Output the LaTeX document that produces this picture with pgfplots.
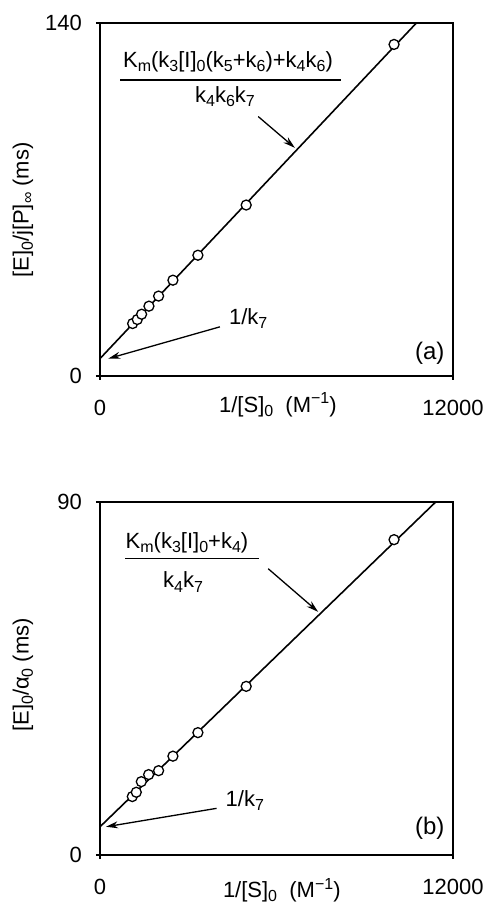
\documentclass[border=0pt]{standalone}
\usepackage{fontspec}
\setmainfont{Liberation Sans}
\usepackage{pgfplots}
\usepackage{pgfplotstable}
\pgfplotsset{compat=1.18}
\usetikzlibrary{arrows.meta}

\newcommand{\sub}[1]{\raisebox{-0.35ex}{\fontsize{8}{8}\selectfont #1}}
\newcommand{\super}[1]{\raisebox{0.75ex}{\fontsize{8}{8}\selectfont #1}}

\pgfplotstableread{
x y
1109 20.8
1268 22.4
1415 24.5
1664 27.7
1992 31.7
2479 38.0
3328 47.9
4970 67.8
9996 131.5
}\dataA
\pgfplotstableread{
x y
0 6.9
10755 140
}\fitA
\pgfplotstableread{
x y
1098 14.9
1234 16.0
1404 18.7
1653 20.5
1992 21.5
2479 25.2
3328 31.2
4970 43.0
9996 80.4
}\dataB
\pgfplotstableread{
x y
0 7.2
11411 90
}\fitB

\pgfplotsset{myax/.style={
  scale only axis, width=176.5pt, height=176.5pt,
  xmin=0, xmax=12000, xtick={0,12000}, xticklabels={0,12000}, scaled x ticks=false,
  scaled y ticks=false,
  tick align=outside, xtick pos=left, ytick pos=left, major tick length=2pt,
  axis line style={line width=0.75pt},
  every tick/.style={line width=0.75pt, black},
  tick label style={font=\fontsize{11}{13}\selectfont},
  xticklabel style={yshift=-6.5pt},
  yticklabel style={xshift=-3.5pt},
  label style={font=\fontsize{11}{13}\selectfont},
  clip=false,
  /pgf/number format/assume math mode=true,
}}
\tikzset{
  fitline/.style={black, line width=0.8pt, no marks},
  pts/.style={only marks, mark=*, mark size=2.5pt, mark options={fill=white, draw=black, line width=0.65pt}},
  arr/.style={line width=0.65pt, -{Stealth[length=6pt,width=3.5pt]}},
  ann/.style={font=\fontsize{11}{13}\selectfont, inner sep=0pt},
}

\begin{document}
\begin{tikzpicture}
\useasboundingbox (-50pt,-263.5pt) rectangle (194pt,188pt);
\begin{axis}[myax, at={(0,0)}, anchor=south west,
  ymin=0, ymax=140, ytick={0,140}, yticklabels={0,140},
  xlabel={1/[S]\sub{0}\ \ (M\super{−1})},
  ylabel={[E]\sub{0}/j[P]\sub{∞} (ms)},
  x label style={at={(axis description cs:0.504,-0.082)}, anchor=center},
  y label style={at={(axis description cs:-0.218,0.47)}, anchor=center, rotate=0},
]
\addplot[fitline] table {\fitA};
\addplot[pts] table {\dataA};
\node[ann] at (axis cs:4350,124.5) {K\sub{m}(k\sub{3}[I]\sub{0}(k\sub{5}+k\sub{6})+k\sub{4}k\sub{6})};
\draw[line width=0.65pt] (axis cs:680,117.4) -- (axis cs:8193,117.4);
\node[ann] at (axis cs:4250,110.7) {k\sub{4}k\sub{6}k\sub{7}};
\draw[arr] (axis cs:5378,102.9) -- (axis cs:6623,90.5);
\node[ann] at (axis cs:5038,22.8) {1/k\sub{7}};
\draw[arr] (axis cs:4076,19.5) -- (axis cs:283,6.9);
\node[font=\fontsize{12}{14}\selectfont, inner sep=0pt] at (axis cs:11208,8.9) {(a)};
\end{axis}

\begin{axis}[myax, at={(0,-239.5pt)}, anchor=south west,
  ymin=0, ymax=90, ytick={0,90}, yticklabels={0,90},
  xlabel={1/[S]\sub{0}\ \ (M\super{−1})},
  ylabel={[E]\sub{0}/α\sub{0} (ms)},
  x label style={at={(axis description cs:0.515,-0.1)}, anchor=center},
  y label style={at={(axis description cs:-0.218,0.51)}, anchor=center, rotate=0},
]
\addplot[fitline] table {\fitB};
\addplot[pts] table {\dataB};
\node[ann] at (axis cs:2958,79.5) {K\sub{m}(k\sub{3}[I]\sub{0}+k\sub{4})};
\draw[line width=0.65pt] (axis cs:850,75.6) -- (axis cs:5405,75.6);
\node[ann] at (axis cs:2822,69.6) {k\sub{4}k\sub{7}};
\draw[arr] (axis cs:5717,73.0) -- (axis cs:7415,62.0);
\node[ann] at (axis cs:4924,14.0) {1/k\sub{7}};
\draw[arr] (axis cs:3962,11.9) -- (axis cs:204,7.2);
\node[font=\fontsize{12}{14}\selectfont, inner sep=0pt] at (axis cs:11208,6.8) {(b)};
\end{axis}
\end{tikzpicture}
\end{document}
